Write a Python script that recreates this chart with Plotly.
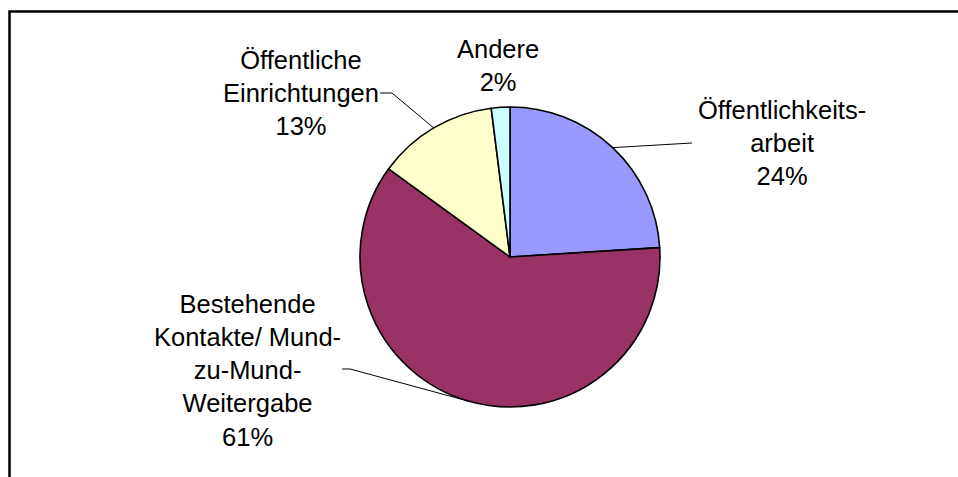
import math
import plotly.graph_objects as go

# ---- data ----
categories = ["Öffentlichkeitsarbeit", "Bestehende Kontakte/ Mund-zu-Mund-Weitergabe",
              "Öffentliche Einrichtungen", "Andere"]
values = [24, 61, 13, 2]
label_texts = ["Öffentlichkeits-<br>arbeit", "Bestehende<br>Kontakte/ Mund-<br>zu-Mund-<br>Weitergabe",
               "Öffentliche<br>Einrichtungen", "Andere"]
colors = ["#9999FF", "#993366", "#FFFFCC", "#CCFFFF"]

# ---- layout (pixel geometry) ----
W, H = 958, 477
CX, CY, R = 510, 257, 150
label_pos = [(782, 143), (248, 370), (301, 93), (498, 66)]
leader_tail = [[(692, 143)], [(342, 369), (350, 369)], [(380, 93), (392, 93)], None]
FONT = dict(family="Liberation Sans, Arial, sans-serif", size=25.5, color="black")


def px(x):
    return x / W


def py(y):
    return 1 - y / H


fig = go.Figure(go.Pie(
    labels=categories, values=values, sort=False, direction="clockwise", rotation=0,
    marker=dict(colors=colors, line=dict(color="black", width=1.6)),
    textinfo="none", hoverinfo="label+percent", showlegend=False,
    domain=dict(x=[px(CX - R), px(CX + R)], y=[py(CY + R), py(CY - R)]),
))

total = sum(values)
cum = 0
annotations = []
shapes = []
for i, v in enumerate(values):
    frac = v / total
    mid = (cum + frac / 2) * 2 * math.pi
    cum += frac
    pct = round(frac * 100)
    x, y = label_pos[i]
    annotations.append(dict(
        x=px(x), y=py(y), xref="paper", yref="paper", xanchor="center", yanchor="middle",
        text=f"{label_texts[i]}<br>{pct}%", showarrow=False, align="center", font=FONT,
    ))
    tail = leader_tail[i]
    if tail:
        ex = CX + R * math.sin(mid)
        ey = CY - R * math.cos(mid)
        pts = tail + [(ex, ey)]
        path = "M " + " L ".join(f"{px(a):.5f} {py(b):.5f}" for a, b in pts)
        shapes.append(dict(type="path", path=path, xref="paper", yref="paper",
                           line=dict(color="black", width=1)))

# chart frame (top and left edges visible), square corner
frame = f"M 1.01 {py(11.5):.5f} L {px(9.5):.5f} {py(11.5):.5f} L {px(9.5):.5f} -0.01"
shapes.append(dict(type="path", path=frame, xref="paper", yref="paper",
                   line=dict(color="black", width=2.5)))

fig.update_layout(
    width=W, height=H, margin=dict(l=0, r=0, t=0, b=0),
    paper_bgcolor="white", plot_bgcolor="white",
    annotations=annotations, shapes=shapes,
)

fig.write_html(
    "out.html",
    config={"displayModeBar": False},
    post_script="document.body.style.margin='0';document.body.style.overflow='hidden';",
)
